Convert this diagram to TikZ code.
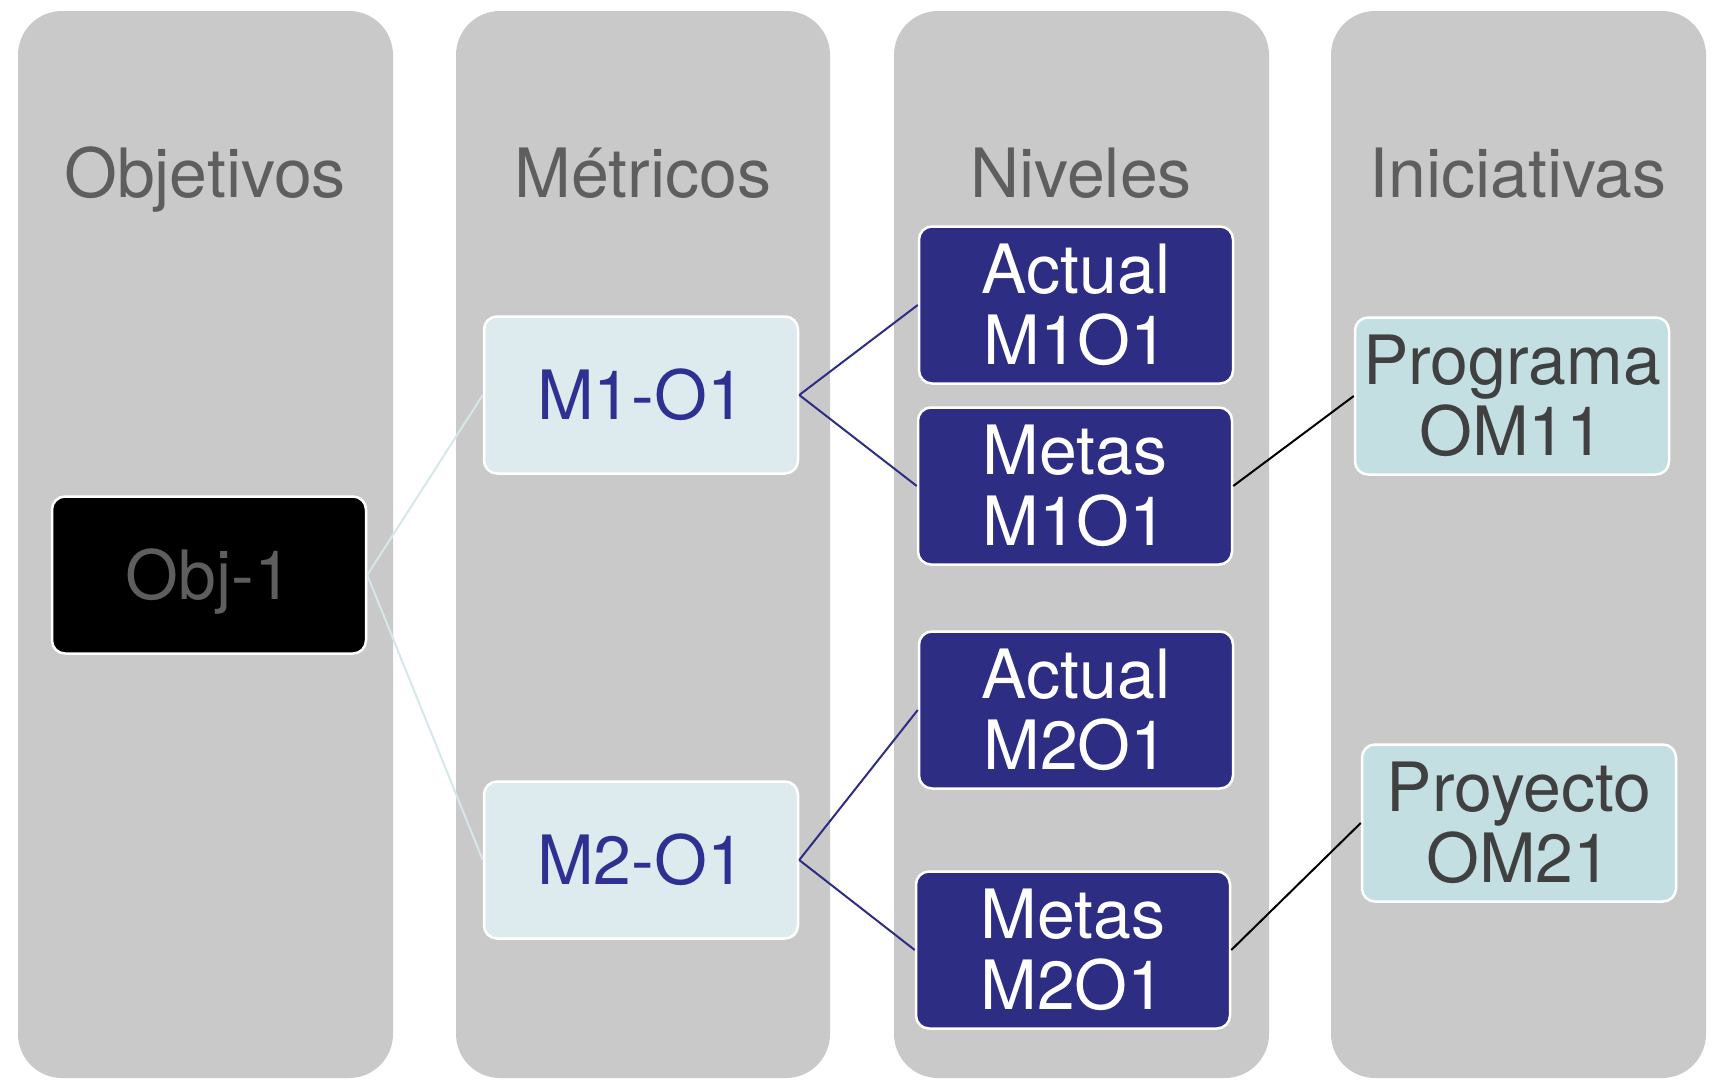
\documentclass[tikz,border=0pt]{standalone}
\usepackage{fontspec}
\setmainfont{TeX Gyre Heros}
\definecolor{colgray}{HTML}{C9C9C9}
\definecolor{headtxt}{HTML}{5E5E5E}
\definecolor{metfill}{HTML}{DDEBEE}
\definecolor{mettxt}{HTML}{2E3192}
\definecolor{navy}{HTML}{2E2D84}
\definecolor{inifill}{HTML}{C3DFE2}
\definecolor{initxt}{HTML}{404040}
\definecolor{lightline}{HTML}{D6E7EA}
\tikzset{
  colbox/.style={fill=colgray, rounded corners=44pt},
  header/.style={anchor=base, text=headtxt, font=\fontsize{68}{71}\selectfont, inner sep=0pt},
  boxbase/.style={draw=white, line width=2.5pt, rounded corners=13pt, minimum width=314pt, minimum height=157pt, inner sep=0pt, font=\fontsize{68}{71}\selectfont, align=center},
  objbox/.style={boxbase, fill=black, text=headtxt, text height=49pt, text depth=0pt},
  metbox/.style={boxbase, fill=metfill, text=mettxt, text height=49pt, text depth=0pt},
  lvlbox/.style={boxbase, fill=navy, text=white},
  inibox/.style={boxbase, fill=inifill, text=initxt},
  objline/.style={draw=lightline, line width=2pt},
  metline/.style={draw=navy, line width=2pt},
  iniline/.style={draw=black, line width=2pt}
}
\begin{document}
\begin{tikzpicture}[x=1pt,y=-1pt]
\useasboundingbox (0,0) rectangle (1720,1082);
% columns
\fill[colbox] (18,11) rectangle (393,1078);
\fill[colbox] (456,11) rectangle (830,1078);
\fill[colbox] (894,11) rectangle (1269,1078);
\fill[colbox] (1331,11) rectangle (1706,1078);
% headers
\node[header] (h1) at (205,197) {Objetivos};
\node[header] (h2) at (643,197) {Métricos};
\node[header] (h3) at (1081,197) {Niveles};
\node[header] (h4) at (1518,197) {Iniciativas};
% nodes
\node[objbox] (obj) at (209,575) {Obj-1};
\node[metbox] (m1) at (641,395) {M1-O1};
\node[metbox] (m2) at (641,860) {M2-O1};
\node[lvlbox] (a1) at (1076,305) {Actual\\M1O1};
\node[lvlbox] (g1) at (1075,486) {Metas\\M1O1};
\node[lvlbox] (a2) at (1076,710) {Actual\\M2O1};
\node[lvlbox] (g2) at (1073,950) {Metas\\M2O1};
\node[inibox] (p1) at (1512,396) {Programa\\OM11};
\node[inibox] (p2) at (1519,823) {Proyecto\\OM21};
% connectors
\draw[objline] (obj.east) -- (m1.west);
\draw[objline] (obj.east) -- (m2.west);
\draw[metline] (m1.east) -- (a1.west);
\draw[metline] (m1.east) -- (g1.west);
\draw[metline] (m2.east) -- (a2.west);
\draw[metline] (m2.east) -- (g2.west);
\draw[iniline] (g1.east) -- (p1.west);
\draw[iniline] (g2.east) -- (p2.west);
\end{tikzpicture}
\end{document}
